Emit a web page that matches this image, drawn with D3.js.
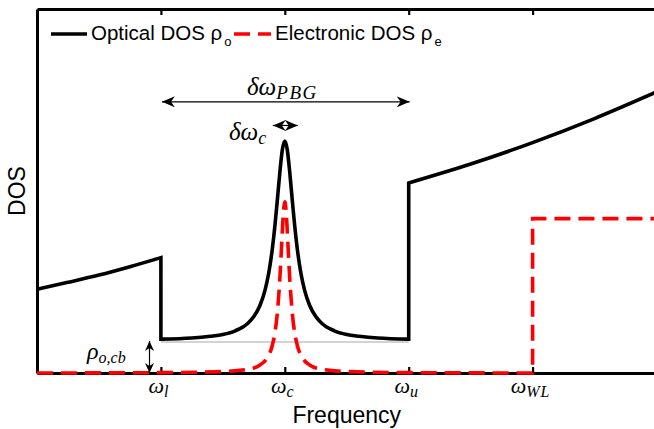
<!DOCTYPE html>
<html>
<head>
<meta charset="utf-8">
<script src="https://cdn.jsdelivr.net/npm/d3@7"></script>
<style>
  html, body { margin: 0; padding: 0; background: #fff; }
  svg { display: block; }
</style>
</head>
<body>
<svg id="chart" width="654" height="429"></svg>
<script>
// ---- data ----
const omegaOptical = [0, 0.25, 0.5, 0.75, 1.0,
  1.0, 1.25, 1.4, 1.5, 1.6, 1.7, 1.75, 1.8, 1.84, 1.87, 1.9, 1.92, 1.94, 1.96, 1.98, 2.0,
  2.02, 2.04, 2.06, 2.08, 2.1, 2.13, 2.16, 2.2, 2.25, 2.3, 2.4, 2.5, 2.6, 2.75, 3.0,
  3.0, 3.5, 4.0, 4.5, 5.0];
const dosOptical = [0.230, 0.249, 0.269, 0.292, 0.317,
  0.093, 0.096, 0.101, 0.106, 0.116, 0.136, 0.155, 0.186, 0.227, 0.274, 0.343, 0.404, 0.476, 0.551, 0.613, 0.637,
  0.613, 0.551, 0.476, 0.404, 0.343, 0.274, 0.227, 0.186, 0.155, 0.136, 0.116, 0.106, 0.101, 0.096, 0.093,
  0.522, 0.574, 0.633, 0.699, 0.772];

const omegaElectronic = [0, 1.0, 1.5, 1.7, 1.8, 1.85, 1.9, 1.92, 1.94, 1.96, 1.97, 1.98, 1.99, 2.0,
  2.01, 2.02, 2.03, 2.04, 2.06, 2.08, 2.1, 2.15, 2.2, 2.3, 2.5, 3.0, 4.0,
  4.0, 5.0];
const dosElectronic = [0, 0.001, 0.004, 0.010, 0.022, 0.038, 0.077, 0.110, 0.166, 0.259, 0.322, 0.390, 0.447, 0.470,
  0.447, 0.390, 0.322, 0.259, 0.166, 0.110, 0.077, 0.038, 0.022, 0.010, 0.004, 0.001, 0,
  0.424, 0.424];

const bandBottomDOS = 0.088;          // rho_o,cb level
const tickValues = [1, 2, 3, 4];
const tickBase = ["ω", "ω", "ω", "ω"];
const tickSub = ["l", "c", "u", "WL"];
const legendLabels = ["Optical DOS ρ", "Electronic DOS ρ"];
const legendSubs = ["o", "e"];
const xTitle = "Frequency";
const yTitle = "DOS";

// ---- scales ----
const svg = d3.select("#chart");
const x = d3.scaleLinear().domain([0, 5]).range([37, 656.5]);
const y = d3.scaleLinear().domain([0, 1]).range([373, 9]);

const sans = "'Liberation Sans', Arial, Helvetica, sans-serif";
const serif = "'Liberation Serif', 'Times New Roman', serif";

// piecewise smooth path: vertical jumps where omega repeats
function piecewisePath(xs, ys) {
  const segs = [];
  let cur = [];
  xs.forEach((v, i) => {
    if (i > 0 && v === xs[i - 1]) { segs.push(cur); cur = []; }
    cur.push([v, ys[i]]);
  });
  segs.push(cur);
  const line = d3.line().x(d => x(d[0])).y(d => y(d[1])).curve(d3.curveMonotoneX);
  return segs.map((s, k) => {
    const p = line(s);
    return k === 0 ? p : "L" + p.slice(1);
  }).join("");
}

// ---- axes (frame) ----
const gBottom = svg.append("g").attr("transform", `translate(0,${y(0)})`)
  .call(d3.axisBottom(x).tickValues(tickValues).tickSize(-6).tickSizeOuter(0).tickFormat(""));
const gTop = svg.append("g").attr("transform", `translate(0,${y(1)})`)
  .call(d3.axisTop(x).tickValues(tickValues).tickSize(-6).tickSizeOuter(0).tickFormat(""));
[gBottom, gTop].forEach(g => {
  g.select(".domain").attr("stroke", "#000").attr("stroke-width", 3);
  g.selectAll(".tick line").attr("stroke", "#000").attr("stroke-width", 2.2);
});
const gLeft = svg.append("g").attr("transform", `translate(${x(0)},0)`)
  .call(d3.axisLeft(y).tickValues([]).tickSizeOuter(0));
gLeft.select(".domain").attr("stroke", "#000").attr("stroke-width", 3);

// ---- baseline of band gap ----
svg.append("line")
  .attr("x1", x(1)).attr("x2", x(3))
  .attr("y1", y(bandBottomDOS) + 1).attr("y2", y(bandBottomDOS) + 1)
  .attr("stroke", "#c4c4c4").attr("stroke-width", 1.6);

// ---- curves ----
svg.append("path")
  .attr("d", piecewisePath(omegaOptical, dosOptical))
  .attr("fill", "none").attr("stroke", "#000").attr("stroke-width", 3.6)
  .attr("stroke-linejoin", "miter");

svg.append("path")
  .attr("d", piecewisePath(omegaElectronic, dosElectronic))
  .attr("fill", "none").attr("stroke", "#ff0000").attr("stroke-width", 3.6)
  .attr("stroke-dasharray", "16,8").attr("stroke-linejoin", "miter");

// ---- tick labels ----
tickValues.forEach((t, i) => {
  const txt = svg.append("text")
    .attr("x", x(t) - 2).attr("y", 393)
    .attr("text-anchor", "middle")
    .attr("font-family", serif).attr("font-style", "italic")
    .attr("font-size", 22).attr("fill", "#000");
  txt.append("tspan").text(tickBase[i]);
  txt.append("tspan").attr("dy", 4).attr("font-size", 16)
    .attr("letter-spacing", 1).text(tickSub[i]);
});

// ---- axis titles ----
svg.append("text")
  .attr("x", (x(0) + x(5)) / 2).attr("y", 423)
  .attr("text-anchor", "middle")
  .attr("font-family", sans).attr("font-size", 23).attr("fill", "#000")
  .text(xTitle);
svg.append("text")
  .attr("transform", `translate(25,${(y(0) + y(1)) / 2}) rotate(-90)`)
  .attr("text-anchor", "middle")
  .attr("font-family", sans).attr("font-size", 23).attr("fill", "#000")
  .text(yTitle);

// ---- legend ----
svg.append("line").attr("x1", 51).attr("x2", 87).attr("y1", 34).attr("y2", 34)
  .attr("stroke", "#000").attr("stroke-width", 3.6);
svg.append("line").attr("x1", 234).attr("x2", 271).attr("y1", 34).attr("y2", 34)
  .attr("stroke", "#ff0000").attr("stroke-width", 3.6).attr("stroke-dasharray", "16,8");
[[91, 0], [275, 1]].forEach(([lx, i]) => {
  const t = svg.append("text").attr("x", lx).attr("y", 40)
    .attr("font-family", sans).attr("font-size", 20.5).attr("fill", "#000");
  t.append("tspan").text(legendLabels[i]);
  t.append("tspan").attr("dx", 2).attr("dy", 6).attr("font-size", 13).text(legendSubs[i]);
});

// ---- annotations ----
const defs = svg.append("defs");
function headMarker(id, len, half) {
  defs.append("marker").attr("id", id)
    .attr("viewBox", `0 ${-half} ${len} ${2 * half}`)
    .attr("refX", len).attr("refY", 0)
    .attr("markerWidth", len).attr("markerHeight", 2 * half)
    .attr("markerUnits", "userSpaceOnUse")
    .attr("orient", "auto-start-reverse")
    .append("path")
    .attr("d", `M0,${-half} L${len},0 L0,${half} L${len * 0.3},0 Z`)
    .attr("fill", "#000");
}
headMarker("hBig", 13, 5.5);
headMarker("hSmall", 10, 4.5);

// photonic band gap width arrow
svg.append("line")
  .attr("x1", x(1) + 1).attr("x2", x(3) + 1)
  .attr("y1", y(0.745)).attr("y2", y(0.745))
  .attr("stroke", "#000").attr("stroke-width", 1.2)
  .attr("marker-start", "url(#hBig)").attr("marker-end", "url(#hBig)");
const pbg = svg.append("text").attr("x", 247).attr("y", 95)
  .attr("font-family", serif).attr("font-style", "italic").attr("font-size", 25).attr("fill", "#000");
pbg.append("tspan").text("δω");
pbg.append("tspan").attr("dy", 4).attr("font-size", 19).attr("letter-spacing", 1.5).text("PBG");

// cavity linewidth arrow
svg.append("line")
  .attr("x1", x(2) - 12).attr("x2", x(2) + 13)
  .attr("y1", y(0.68)).attr("y2", y(0.68))
  .attr("stroke", "#000").attr("stroke-width", 1.2)
  .attr("marker-start", "url(#hBig)").attr("marker-end", "url(#hBig)");
const dwc = svg.append("text").attr("x", 229).attr("y", 140)
  .attr("font-family", serif).attr("font-style", "italic").attr("font-size", 25).attr("fill", "#000");
dwc.append("tspan").text("δω");
dwc.append("tspan").attr("dy", 4).attr("font-size", 18).text("c");

// band-bottom DOS arrow
svg.append("line")
  .attr("x1", x(0.908)).attr("x2", x(0.908))
  .attr("y1", y(bandBottomDOS)).attr("y2", y(0))
  .attr("stroke", "#000").attr("stroke-width", 1.2)
  .attr("marker-start", "url(#hSmall)").attr("marker-end", "url(#hSmall)");
const rcb = svg.append("text").attr("x", 87).attr("y", 359)
  .attr("font-family", serif).attr("font-style", "italic").attr("font-size", 24).attr("fill", "#000");
rcb.append("tspan").text("ρ");
rcb.append("tspan").attr("dy", 4).attr("font-size", 16).text("o,cb");
</script>
</body>
</html>
